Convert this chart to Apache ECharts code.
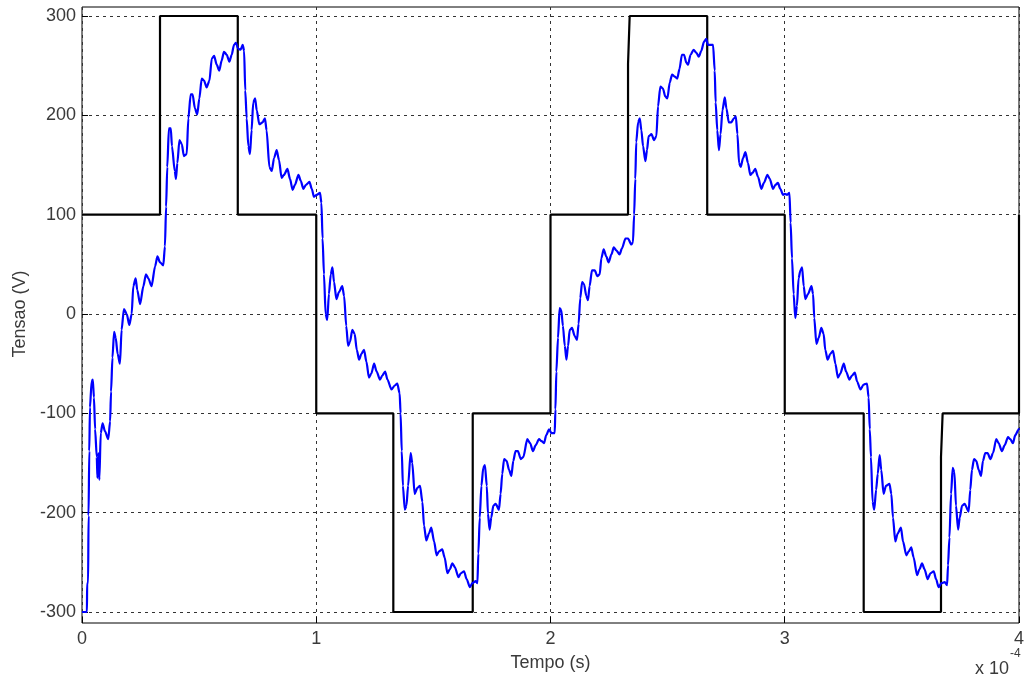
<!DOCTYPE html>
<html>
<head>
<meta charset="utf-8">
<script src="https://cdn.jsdelivr.net/npm/echarts@6/dist/echarts.min.js"></script>
<style>html,body{margin:0;padding:0;background:#fff;}#c{width:1027px;height:684px;}</style>
</head>
<body>
<div id="c"></div>
<script>
// Time in units of 1e-4 s
var xTicks = ['0', '1', '2', '3', '4'];
var yTicks = ['-300', '-200', '-100', '0', '100', '200', '300'];

// Reference (black) staircase: time and voltage
var degrauT = [0, 0.333, 0.333, 0.665, 0.665, 1.0, 1.0, 1.329, 1.329, 1.668, 1.668, 2.0, 2.0, 2.331, 2.331, 2.338, 2.338, 2.669, 2.669, 3.0, 3.0, 3.337, 3.337, 3.667, 3.667, 3.674, 3.674, 4.0, 4.0];
var degrauV = [100, 100, 300, 300, 100, 100, -100, -100, -300, -300, -100, -100, 100, 100, 252, 252, 300, 300, 100, 100, -100, -100, -300, -300, -144, -144, -100, -100, 100];

// Measured (blue) voltage, [t, V]
var azul01 = [[0,-300],[0.021,-300],[0.022,-271],[0.026,-271],[0.028,-203],[0.031,-138],[0.034,-94],[0.041,-68],[0.046,-66],[0.051,-84],[0.056,-116],[0.063,-144],[0.066,-165],[0.070,-140],[0.074,-167],[0.080,-120],[0.088,-110],[0.098,-118],[0.112,-126],[0.120,-108],[0.124,-78],[0.130,-44],[0.137,-18],[0.144,-24],[0.152,-40],[0.162,-50],[0.169,-16],[0.179,5],[0.191,0],[0.202,-11],[0.212,0],[0.219,28],[0.229,36],[0.236,24],[0.248,10],[0.262,28],[0.273,40],[0.283,36],[0.297,28],[0.312,48],[0.322,58],[0.333,52],[0.347,49],[0.354,68],[0.359,108],[0.364,148],[0.371,187],[0.379,187],[0.384,169],[0.396,144],[0.401,136],[0.407,152],[0.416,175],[0.426,171],[0.435,159],[0.447,161],[0.454,197],[0.464,221],[0.472,221],[0.482,207],[0.492,201],[0.501,217],[0.511,237],[0.521,235],[0.532,228],[0.544,235],[0.554,257],[0.564,260],[0.575,251],[0.586,245],[0.596,255],[0.606,264],[0.618,261],[0.629,254],[0.639,261],[0.649,271],[0.657,273],[0.667,267],[0.677,266],[0.686,271],[0.692,265],[0.697,225],[0.703,197],[0.710,169],[0.717,161],[0.724,185],[0.731,213],[0.739,217],[0.746,205],[0.757,191],[0.771,193],[0.781,197],[0.788,185],[0.800,148],[0.810,144],[0.820,157],[0.831,165],[0.841,155],[0.852,137],[0.862,140],[0.877,146],[0.888,136],[0.899,125],[0.909,130],[0.924,140],[0.934,134],[0.945,126],[0.956,130],[0.971,133],[0.981,126],[0.990,118]];
var azul12 = [[1.002,120],[1.016,122],[1.022,112],[1.027,76],[1.033,40],[1.040,0],[1.047,-6],[1.054,20],[1.062,40],[1.069,47],[1.076,32],[1.086,15],[1.097,22],[1.111,28],[1.119,18],[1.128,-12],[1.136,-32],[1.144,-28],[1.154,-16],[1.164,-20],[1.173,-36],[1.183,-46],[1.193,-40],[1.204,-36],[1.214,-48],[1.225,-64],[1.235,-60],[1.247,-50],[1.258,-58],[1.272,-66],[1.282,-62],[1.294,-58],[1.304,-66],[1.321,-76],[1.335,-72],[1.346,-70],[1.356,-80],[1.360,-100],[1.365,-138],[1.370,-173],[1.378,-197],[1.385,-193],[1.392,-173],[1.403,-140],[1.410,-150],[1.420,-181],[1.432,-175],[1.443,-173],[1.453,-189],[1.460,-213],[1.470,-228],[1.481,-221],[1.491,-215],[1.503,-229],[1.514,-243],[1.524,-239],[1.538,-237],[1.548,-245],[1.560,-261],[1.570,-257],[1.581,-251],[1.592,-255],[1.607,-265],[1.617,-261],[1.631,-259],[1.642,-267],[1.656,-275],[1.666,-271],[1.681,-269],[1.688,-271],[1.692,-241],[1.698,-205],[1.705,-173],[1.713,-155],[1.720,-152],[1.728,-173],[1.733,-201],[1.740,-217],[1.747,-205],[1.756,-193],[1.766,-191],[1.780,-197],[1.787,-181],[1.794,-161],[1.802,-146],[1.813,-148],[1.823,-157],[1.833,-163],[1.841,-148],[1.851,-138],[1.861,-138],[1.873,-146],[1.884,-144],[1.901,-126],[1.913,-130],[1.925,-138],[1.937,-132],[1.951,-126],[1.962,-128],[1.972,-130],[1.982,-122],[1.994,-116]];
var azul23 = [[2.004,-120],[2.018,-120],[2.021,-96],[2.025,-58],[2.032,-24],[2.039,6],[2.046,4],[2.053,-12],[2.061,-32],[2.068,-46],[2.075,-32],[2.082,-16],[2.092,-14],[2.103,-22],[2.113,-26],[2.120,-10],[2.127,16],[2.135,32],[2.143,30],[2.153,18],[2.160,14],[2.167,28],[2.177,44],[2.189,44],[2.200,38],[2.210,40],[2.217,56],[2.227,65],[2.238,58],[2.248,52],[2.260,60],[2.270,67],[2.281,64],[2.295,60],[2.305,66],[2.320,76],[2.331,76],[2.345,70],[2.352,72],[2.357,100],[2.362,136],[2.366,173],[2.374,193],[2.381,197],[2.388,185],[2.395,169],[2.405,154],[2.412,165],[2.419,179],[2.431,181],[2.442,175],[2.452,179],[2.459,209],[2.469,229],[2.480,227],[2.490,219],[2.499,217],[2.509,233],[2.519,241],[2.530,239],[2.541,237],[2.551,247],[2.561,261],[2.570,261],[2.580,253],[2.587,251],[2.598,261],[2.611,266],[2.623,263],[2.633,259],[2.644,265],[2.655,274],[2.665,277],[2.672,271],[2.684,271],[2.694,271],[2.701,245],[2.705,213],[2.712,185],[2.719,165],[2.726,181],[2.734,205],[2.744,218],[2.751,207],[2.761,193],[2.772,193],[2.783,197],[2.791,199],[2.798,181],[2.805,152],[2.812,148],[2.822,157],[2.832,163],[2.843,152],[2.853,140],[2.862,142],[2.874,146],[2.886,138],[2.900,126],[2.911,132],[2.926,140],[2.936,136],[2.950,126],[2.960,130],[2.971,132],[2.981,126],[2.993,120]];
var azul34 = [[3.000,121],[3.010,120],[3.020,122],[3.025,92],[3.031,56],[3.038,20],[3.045,-4],[3.052,8],[3.059,36],[3.067,44],[3.074,47],[3.081,28],[3.088,15],[3.099,20],[3.114,28],[3.121,20],[3.126,-4],[3.135,-30],[3.145,-24],[3.156,-14],[3.166,-20],[3.173,-36],[3.183,-46],[3.195,-40],[3.206,-37],[3.216,-50],[3.227,-64],[3.237,-60],[3.252,-50],[3.262,-58],[3.276,-66],[3.287,-62],[3.299,-59],[3.309,-68],[3.323,-76],[3.337,-71],[3.351,-70],[3.358,-84],[3.363,-116],[3.368,-144],[3.375,-189],[3.382,-197],[3.390,-177],[3.397,-161],[3.405,-142],[3.412,-157],[3.422,-181],[3.432,-173],[3.447,-171],[3.455,-181],[3.462,-205],[3.472,-229],[3.482,-221],[3.496,-215],[3.505,-229],[3.519,-243],[3.529,-239],[3.540,-235],[3.550,-245],[3.565,-263],[3.575,-257],[3.586,-251],[3.597,-257],[3.610,-267],[3.622,-261],[3.636,-259],[3.646,-267],[3.657,-275],[3.668,-271],[3.683,-270],[3.693,-273],[3.697,-253],[3.703,-225],[3.710,-181],[3.717,-155],[3.724,-159],[3.731,-193],[3.740,-217],[3.747,-205],[3.757,-193],[3.768,-191],[3.785,-199],[3.792,-177],[3.799,-157],[3.808,-146],[3.818,-148],[3.828,-157],[3.838,-163],[3.846,-148],[3.856,-140],[3.866,-140],[3.878,-146],[3.889,-140],[3.903,-126],[3.913,-130],[3.927,-138],[3.939,-132],[3.953,-124],[3.963,-126],[3.974,-130],[3.984,-122],[3.999,-116],[4.0,-115]];

var FONT = '"Liberation Sans", Arial, Helvetica, sans-serif';
var TXT = '#3a3a3a';

var degrau = degrauT.map(function (t, i) { return [t, degrauV[i]]; });
var azul = azul01.concat(azul12, azul23, azul34);

var chart = echarts.init(document.getElementById('c'), null, { renderer: 'canvas' });
chart.setOption({
  backgroundColor: '#fff',
  animation: false,
  grid: [
    { left: 82, right: 8, top: 16, bottom: 72, show: false },
    { left: 82, right: 8, top: 7, bottom: 61, show: true, borderColor: '#000', borderWidth: 1, backgroundColor: 'transparent' }
  ],
  xAxis: [
    { gridIndex: 0, type: 'value', min: 0, max: 4, interval: 1, show: false },
    { gridIndex: 1, type: 'value', min: 0, max: 4, interval: 1,
      axisLine: { show: false },
      axisTick: { show: true, inside: true, length: 6, lineStyle: { color: '#000' } },
      axisLabel: { margin: 7, color: TXT, fontSize: 18, fontFamily: FONT,
        formatter: function (v) { return xTicks[Math.round(v)]; } },
      splitLine: { show: true, lineStyle: { color: '#333', width: 1, type: [3, 4] } },
      name: 'Tempo (s)', nameLocation: 'middle', nameGap: 31,
      nameTextStyle: { color: TXT, fontSize: 18, fontFamily: FONT }
    }
  ],
  yAxis: [
    { gridIndex: 0, type: 'value', min: -300, max: 300, interval: 100,
      axisLine: { show: false },
      axisTick: { show: true, inside: true, length: 6, lineStyle: { color: '#000' } },
      axisLabel: { margin: 6, color: TXT, fontSize: 18, fontFamily: FONT,
        formatter: function (v) { return yTicks[Math.round((v + 300) / 100)]; } },
      splitLine: { show: true, lineStyle: { color: '#333', width: 1, type: [3, 4] } },
      name: 'Tensao (V)', nameLocation: 'middle', nameGap: 52, nameRotate: 90,
      nameTextStyle: { color: TXT, fontSize: 18, fontFamily: FONT }
    },
    { gridIndex: 1, type: 'value', min: 0, max: 1, show: false }
  ],
  graphic: [
    { type: 'text', right: 18, top: 660, style: { text: 'x 10', fill: TXT, font: '18px ' + FONT } },
    { type: 'text', left: 1010, top: 648, style: { text: '-4', fill: TXT, font: '12px ' + FONT } }
  ],
  series: [
    { type: 'line', xAxisIndex: 0, yAxisIndex: 0, data: degrau, showSymbol: false, symbol: 'none', clip: false,
      lineStyle: { color: '#000', width: 2.2 }, z: 3 },
    { type: 'line', xAxisIndex: 0, yAxisIndex: 0, data: azul, showSymbol: false, symbol: 'none', clip: false,
      smooth: 0.25, smoothMonotone: 'x',
      lineStyle: { color: '#0000ff', width: 2.2 }, z: 4 }
  ]
});
</script>
</body>
</html>
